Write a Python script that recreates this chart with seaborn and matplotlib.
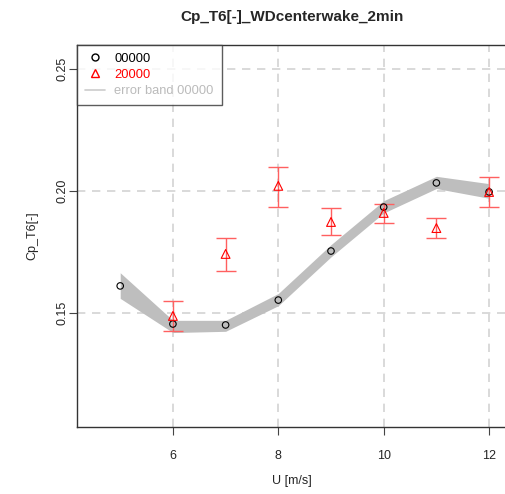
import numpy as np
import pandas as pd
import seaborn as sns
import matplotlib
matplotlib.use("Agg")
import matplotlib.pyplot as plt
from matplotlib.lines import Line2D

# reference series 00000 with its error band
u_ref = [5, 6, 7, 8, 9, 10, 11, 12]
cp_ref = [0.1611, 0.1455, 0.1451, 0.1553, 0.1754, 0.1934, 0.2033, 0.1996]
band_lo = [0.1560, 0.1420, 0.1425, 0.1530, 0.1730, 0.1910, 0.2010, 0.1970]
band_hi = [0.1665, 0.1470, 0.1470, 0.1580, 0.1780, 0.1960, 0.2060, 0.2030]

# series 20000 with error bars
u_new = [6, 7, 8, 9, 10, 11, 12]
cp_new = [0.1488, 0.1742, 0.2021, 0.1873, 0.1910, 0.1848, 0.1996]
err_lo = [0.1426, 0.1672, 0.1934, 0.1820, 0.1869, 0.1807, 0.1934]
err_hi = [0.1550, 0.1807, 0.2098, 0.1930, 0.1947, 0.1889, 0.2057]

df_ref = pd.DataFrame({"U": u_ref, "Cp": cp_ref})
df_new = pd.DataFrame({"U": u_new, "Cp": cp_new})

sns.set_style("white")
plt.rcParams["font.family"] = ["Liberation Sans", "DejaVu Sans"]

W, H = 505, 494
fig = plt.figure(figsize=(W / 100, H / 100), dpi=100)
ax = fig.add_axes([77 / W, 1 - 427 / H, (507 - 77) / W, (427 - 45) / H])

# grid
for xv in [6, 8, 10, 12]:
    ax.axvline(xv, color="#d3d3d3", ls=(0, (5, 4)), lw=1.2, zorder=0)
for yv in [0.15, 0.20, 0.25]:
    ax.axhline(yv, color="#d3d3d3", ls=(0, (5, 4)), lw=1.2, zorder=0)

ax.fill_between(u_ref, band_lo, band_hi, color="#bebebe", lw=0, zorder=1)

sns.scatterplot(data=df_ref, x="U", y="Cp", ax=ax, marker="o", s=22,
                facecolor="none", edgecolor="black", linewidth=0.8, zorder=3)

yerr = [np.array(cp_new) - np.array(err_lo), np.array(err_hi) - np.array(cp_new)]
ax.errorbar(u_new, cp_new, yerr=yerr, fmt="none", ecolor="#ff6060",
            elinewidth=1.0, capsize=7.5, capthick=1.0, zorder=2)
sns.scatterplot(data=df_new, x="U", y="Cp", ax=ax, marker="^", s=40,
                facecolor="none", edgecolor="red", linewidth=0.8, zorder=4)

ax.set_xlim(4.18, 12.34)
ax.set_ylim(0.1033, 0.2598)
ax.set_xticks([6, 8, 10, 12])
ax.set_yticks([0.15, 0.20, 0.25])
ax.set_yticklabels(["0.15", "0.20", "0.25"], rotation=90, va="center")
ax.tick_params(axis="both", direction="out", length=5.5, width=0.8,
               color="#444444", labelsize=9, left=True, bottom=True)
ax.tick_params(axis="x", pad=11)
ax.tick_params(axis="y", pad=0.5)
for sp in ax.spines.values():
    sp.set_color("#333333")
    sp.set_linewidth(1.0)

ax.set_xlabel("U [m/s]", fontsize=9, labelpad=9.5)
ax.set_ylabel("Cp_T6[-]", fontsize=9, labelpad=13)
ax.set_title("Cp_T6[-]_WDcenterwake_2min", fontsize=11, fontweight="bold", pad=17)

handles = [
    Line2D([], [], ls="none", marker="o", mfc="none", mec="black", ms=5),
    Line2D([], [], ls="none", marker="^", mfc="none", mec="red", ms=6),
    Line2D([], [], color="#cccccc", lw=1.2),
]
leg = ax.legend(handles, ["00000", "20000", "error band 00000"], loc="upper left",
                bbox_to_anchor=(0, 1), frameon=True, fancybox=False, fontsize=9.3,
                borderaxespad=0, handlelength=1.6, handletextpad=0.7,
                labelspacing=0.32, borderpad=0.6)
leg.get_frame().set_edgecolor("#333333")
leg.get_frame().set_linewidth(1.0)
for t, c in zip(leg.get_texts(), ["black", "red", "#bbbbbb"]):
    t.set_color(c)

fig.savefig("out.png", dpi=100)
